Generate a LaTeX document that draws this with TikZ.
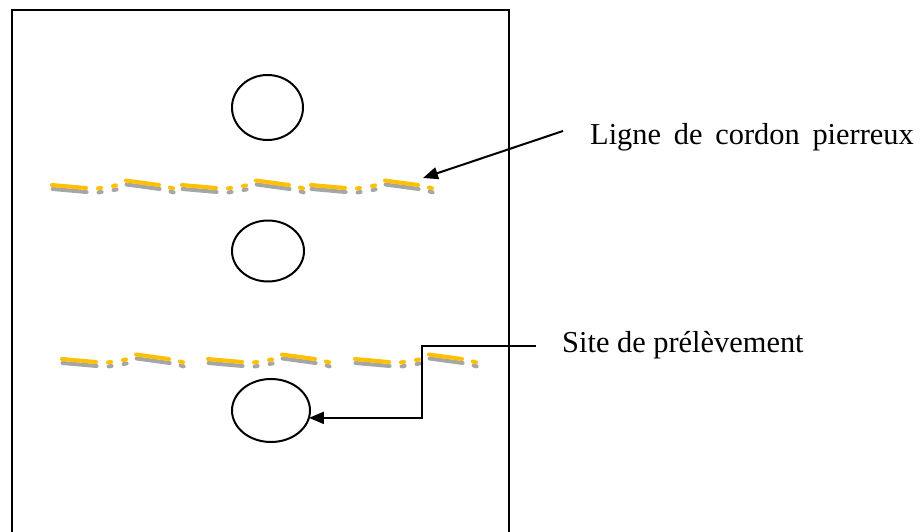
\documentclass[tikz,border=0pt]{standalone}
\usepackage{fontspec}
\setmainfont{Liberation Serif}
\usetikzlibrary{arrows.meta,shapes.geometric}
\definecolor{cordonor}{HTML}{FFC000}
\definecolor{cordongris}{HTML}{A6A6A6}
\tikzset{
  pit/.style={ellipse, draw=black, line width=2pt, inner sep=0pt, outer sep=0pt},
  label text/.style={font=\fontsize{30.4}{36}\selectfont, inner sep=0pt, anchor=base west},
  pointer/.style={draw=black, line width=2pt, -{Triangle[length=15pt,width=12pt]}},
  stoneline/.style={line width=4pt, line cap=round},
  % one group of the stone line: long dash, two dots, raised dash, one dot
  pics/stonegroup/.style={code={
    \foreach \c/\dx/\dy in {cordongris/0.6/4, cordonor/0/0}{
      \begin{scope}[shift={(\dx,\dy)}]
        \draw[stoneline, \c] (0,0) -- (34,3);
        \draw[stoneline, \c] (46,3.4) -- (49,3);
        \draw[stoneline, \c] (61,1) -- (64,0.4);
        \draw[stoneline, \c] (74,-4.5) -- (107,0);
        \draw[stoneline, \c] (118,2.5) -- (121,3.4);
      \end{scope}
    }
  }}
}
\begin{document}
\begin{tikzpicture}[x=1pt, y=-1pt]
  \useasboundingbox[fill=white] (0,0) rectangle (923,532);

  % field outline
  \draw[line width=2pt] (12,545) -- (12,10) -- (509,10) -- (509,545);

  % sampling pits
  \node[pit, minimum width=71pt, minimum height=65pt] (e1) at (267.5,107.5) {};
  \node[pit, minimum width=72pt, minimum height=61pt] (e2) at (268,251) {};
  \node[pit, minimum width=78pt, minimum height=63pt] (e3) at (271,410.5) {};

  % upper stone line
  \foreach \x in {52,182,311}
    \pic at (\x,185) {stonegroup};
  % lower stone line
  \foreach \x in {62,208,355}
    \pic at (\x,359) {stonegroup};

  % labels
  \node[label text] (cordon) at (590,144) {\spaceskip=0.42em Ligne de cordon pierreux};
  \node[label text] (site) at (562,352) {Site de prélèvement};

  % connectors
  \coordinate (cordonstart) at (563,131);
  \coordinate (cordontip) at (423,178);
  \coordinate (sitestart) at (536,346);
  \coordinate (siteelbow) at (422,346);
  \draw[pointer] (cordonstart) -- (cordontip);
  \draw[pointer] (sitestart) -- (siteelbow) |- (e3.-11);
\end{tikzpicture}
\end{document}
